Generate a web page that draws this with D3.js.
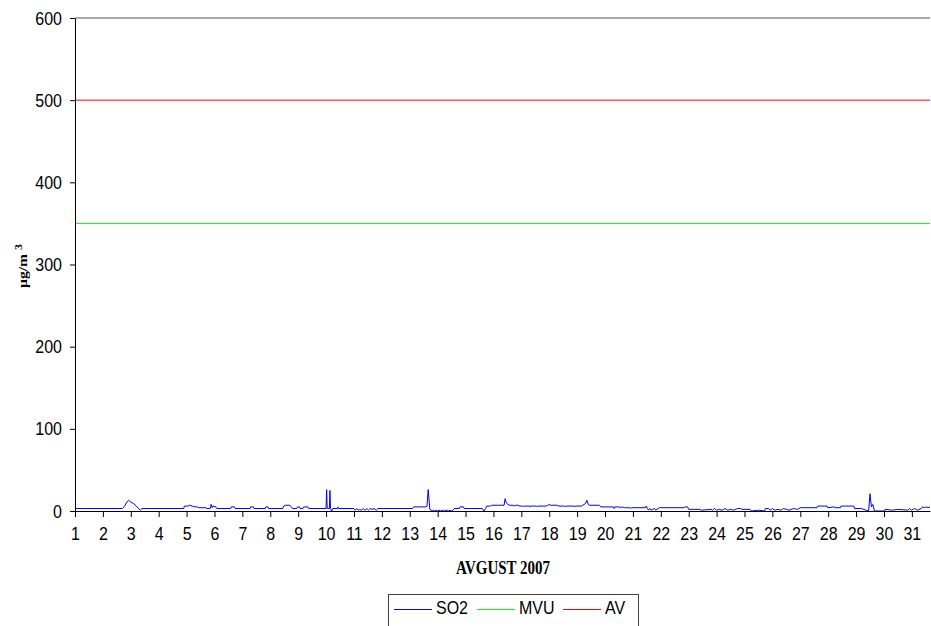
<!DOCTYPE html>
<html>
<head>
<meta charset="utf-8">
<script src="https://cdn.jsdelivr.net/npm/d3@7"></script>
<style>
  body { margin: 0; background: #fff; }
  svg { display: block; }
  .axis text { font-family: "Liberation Sans", Arial, sans-serif; font-size: 16px; fill: #000; }
  .axis path, .axis line { stroke: #000; }
</style>
</head>
<body>
<div id="chart"></div>
<script>
// hourly SO2 readings as [day, µg/m3]
const so2Points = [
  [1.00, 5], [1.04, 3], [2.70, 3], [2.78, 6], [2.86, 11], [2.92, 13], [3.00, 11], [3.10, 9],
  [3.20, 6], [3.30, 2], [3.34, 1], [3.40, 3], [4.90, 3], [4.92, 6], [5.05, 6], [5.10, 7],
  [5.20, 6], [5.30, 5], [5.40, 5], [5.42, 4], [5.70, 4], [5.72, 3], [5.85, 3], [5.88, 8],
  [5.92, 4], [5.95, 6], [6.05, 5], [6.08, 3], [6.58, 3], [6.60, 5], [6.72, 5], [6.74, 3],
  [7.28, 3], [7.30, 5], [7.40, 5], [7.42, 3], [7.82, 3], [7.84, 5], [7.92, 5], [7.94, 3],
  [8.45, 3], [8.48, 6], [8.55, 7], [8.70, 7], [8.75, 5], [8.80, 3], [8.95, 3], [8.98, 5],
  [9.05, 5], [9.07, 3], [9.17, 3], [9.20, 5], [9.35, 5], [9.38, 3], [10.00, 3], [10.02, 26],
  [10.04, 3], [10.12, 3], [10.14, 25], [10.16, 3], [10.20, 0], [10.24, 3], [10.40, 3], [10.42, 5],
  [10.44, 3], [11.00, 3], [11.04, 1], [11.10, 3], [11.15, 1], [11.20, 2], [11.27, 1], [11.33, 3],
  [11.40, 1], [11.46, 3], [11.52, 1], [11.58, 3], [11.65, 2], [11.72, 3], [11.80, 1], [11.86, 3],
  [13.10, 3], [13.14, 5], [13.58, 5], [13.62, 6], [13.66, 26], [13.72, 2], [13.78, 1], [13.80, 0],
  [13.85, 1], [13.90, 0], [13.95, 1], [14.00, 0], [14.05, 1], [14.10, 0], [14.15, 1], [14.20, 0],
  [14.25, 1], [14.30, 0], [14.35, 1], [14.40, 0], [14.45, 1], [14.50, 0], [14.55, 1], [14.60, 3],
  [14.78, 3], [14.80, 5], [14.93, 5], [14.95, 3], [15.60, 3], [15.66, 0], [15.72, 3], [15.76, 6],
  [15.90, 6], [15.93, 7], [16.38, 7], [16.42, 15], [16.46, 10], [16.52, 8], [16.58, 7], [16.70, 7],
  [16.72, 6], [16.80, 7], [16.90, 7], [16.92, 6], [17.05, 6], [17.08, 5], [17.10, 6], [17.30, 6],
  [17.32, 5], [17.34, 6], [17.55, 6], [17.58, 5], [17.60, 6], [17.90, 6], [17.95, 7], [18.00, 8],
  [18.05, 7], [18.30, 7], [18.32, 6], [18.55, 6], [18.58, 5], [18.60, 6], [18.90, 6], [18.92, 5],
  [18.95, 6], [19.15, 6], [19.20, 7], [19.30, 9], [19.35, 13], [19.40, 8], [19.45, 7], [19.80, 7],
  [19.85, 5], [20.30, 5], [20.33, 3], [20.36, 5], [20.50, 5], [20.55, 4], [20.62, 5], [20.70, 4],
  [20.90, 4], [20.92, 3], [20.95, 4], [21.45, 4], [21.48, 6], [21.52, 3], [21.56, 1], [21.60, 3],
  [21.65, 1], [21.70, 2], [21.78, 3], [21.82, 1], [21.90, 3], [21.95, 4], [22.84, 4], [22.86, 5],
  [22.96, 5], [23.00, 2], [23.40, 2], [23.45, 1], [23.80, 2], [23.85, 1], [23.92, 3], [24.00, 1],
  [24.10, 2], [24.20, 1], [24.30, 3], [24.40, 1], [24.50, 2], [24.60, 1], [24.75, 3], [24.87, 3],
  [24.90, 2], [25.20, 2], [25.25, 0], [25.50, 1], [25.72, 0], [25.75, 3], [25.87, 3], [25.92, 1],
  [26.00, 3], [26.10, 1], [26.20, 2], [26.30, 1], [26.40, 3], [26.50, 2], [26.60, 1], [26.75, 3],
  [26.90, 2], [27.00, 4], [27.60, 4], [27.63, 6], [27.96, 6], [27.98, 4], [28.20, 5], [28.25, 4],
  [28.44, 4], [28.46, 6], [28.92, 6], [28.95, 3], [29.20, 3], [29.35, 1], [29.45, 0], [29.50, 21],
  [29.55, 5], [29.60, 8], [29.66, 0], [30.02, 0], [30.04, 2], [30.30, 1], [30.50, 2], [30.86, 1],
  [30.92, 3], [30.98, 1], [31.10, 3], [31.20, 1], [31.34, 3], [31.38, 5], [31.45, 4], [31.52, 5],
  [31.58, 4], [31.65, 5]
];

// limit values
const mvu = 350;
const av = 500;

const dayTicks = d3.range(1, 32);
const yTicks = [0, 100, 200, 300, 400, 500, 600];
const legendItems = [
  {name: "SO2", color: "#0000ff"},
  {name: "MVU", color: "#00ff00"},
  {name: "AV", color: "#ff0000"}
];

// text in the original is a bit taller than wide
const stretch = 1.2;

// set the dimensions and margins of the graph
const margin = {top: 18, right: 1, bottom: 115, left: 75},
    width = 931 - margin.left - margin.right,
    height = 626 - margin.top - margin.bottom;

const svgRoot = d3.select("#chart")
  .append("svg")
    .attr("width", 931)
    .attr("height", 626);

const svg = svgRoot.append("g")
    .attr("transform", `translate(${margin.left},${margin.top})`);

const x = d3.scaleLinear()
  .domain([1, 31.65])
  .range([0, width]);

const y = d3.scaleLinear()
  .domain([0, 600])
  .range([height, 0]);

// top border of plot area
svg.append("line")
  .attr("x1", 0).attr("x2", width)
  .attr("y1", y(600)).attr("y2", y(600))
  .attr("stroke", "#8c8c8c")
  .attr("stroke-width", 1.5);

// limit lines
svg.append("line")
  .attr("x1", x(1)).attr("x2", x(31.65))
  .attr("y1", y(mvu)).attr("y2", y(mvu))
  .attr("stroke", "#00ff00")
  .attr("stroke-width", 1);

svg.append("line")
  .attr("x1", x(1)).attr("x2", x(31.65))
  .attr("y1", y(av)).attr("y2", y(av))
  .attr("stroke", "#ff0000")
  .attr("stroke-width", 1);

// SO2 line
const line = d3.line()
  .x(d => x(d[0]))
  .y(d => y(d[1]));

svg.append("path")
  .datum(so2Points)
  .attr("fill", "none")
  .attr("stroke", "#0000ff")
  .attr("stroke-width", 1)
  .attr("d", line);

// axes
const yAxis = svg.append("g")
  .attr("class", "axis")
  .call(d3.axisLeft(y).tickValues(yTicks).tickSize(5).tickSizeOuter(0).tickPadding(8));
yAxis.selectAll("text").attr("transform", `scale(1,${stretch})`);

const xAxis = svg.append("g")
  .attr("class", "axis")
  .attr("transform", `translate(0,${height})`)
  .call(d3.axisBottom(x).tickValues(dayTicks).tickSize(6).tickSizeOuter(0).tickPadding(7));
xAxis.selectAll("text").attr("transform", `scale(1,${stretch})`);

// axis titles
svgRoot.append("g")
  .attr("transform", "translate(503,574)")
  .append("text")
    .attr("transform", `scale(1,${stretch})`)
    .attr("text-anchor", "middle")
    .style("font-family", "'Liberation Serif', 'Times New Roman', serif")
    .style("font-weight", "bold")
    .style("font-size", "15px")
    .text("AVGUST 2007");

const yLab = svgRoot.append("g")
  .attr("transform", "translate(27,266) rotate(-90)")
  .append("text")
    .attr("transform", `scale(${stretch},1)`)
    .attr("text-anchor", "middle")
    .style("font-family", "'Liberation Serif', 'Times New Roman', serif")
    .style("font-weight", "bold")
    .style("font-size", "13px");
yLab.append("tspan").text("µg/m ");
yLab.append("tspan").attr("dy", -5).style("font-size", "10px").text("3");

// legend
const legend = svgRoot.append("g");
legend.append("rect")
  .attr("x", 388.5).attr("y", 594.5)
  .attr("width", 250).attr("height", 50)
  .attr("fill", "#fff")
  .attr("stroke", "#404040");

const itemX = [394, 477, 563];
legendItems.forEach((d, i) => {
  legend.append("line")
    .attr("x1", itemX[i]).attr("x2", itemX[i] + 38)
    .attr("y1", 609.5).attr("y2", 609.5)
    .attr("stroke", d.color);
  legend.append("g")
    .attr("transform", `translate(${itemX[i] + 42},614)`)
    .append("text")
      .attr("transform", `scale(1,${stretch})`)
      .style("font-family", "'Liberation Sans', Arial, sans-serif")
      .style("font-size", "16px")
      .text(d.name);
});
</script>
</body>
</html>
